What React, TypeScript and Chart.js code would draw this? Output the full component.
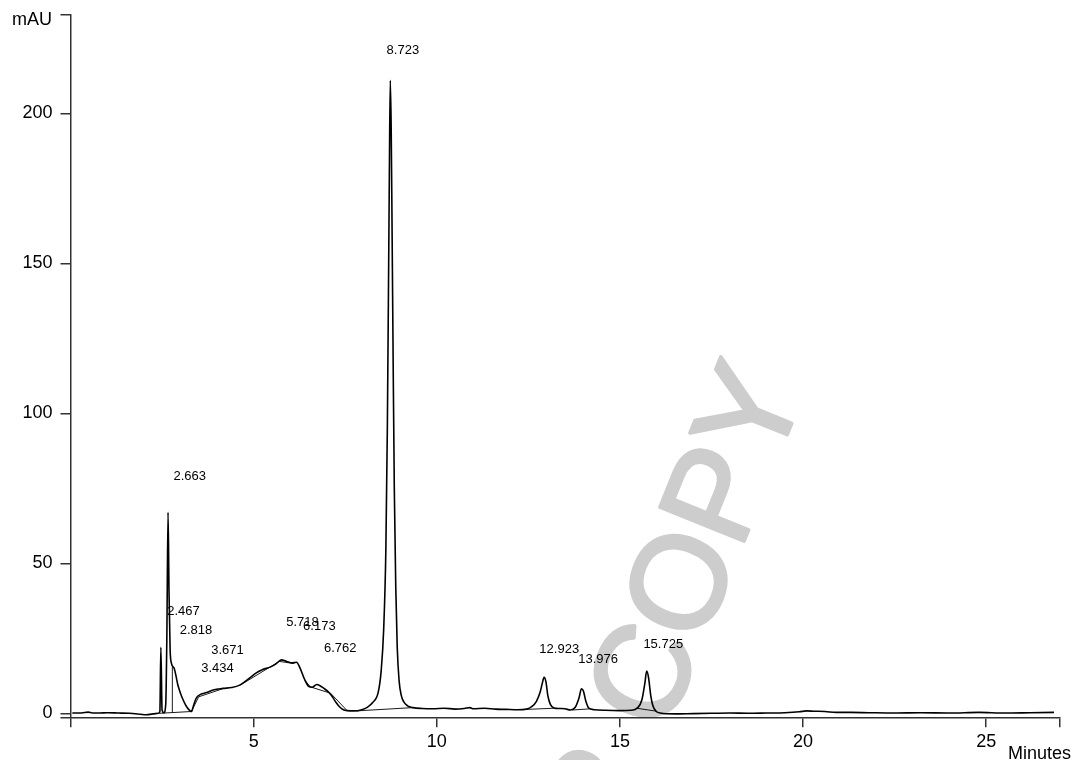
import { useEffect, useRef } from "react";
import { Chart, registerables } from "chart.js";

Chart.register(...registerables);

// Chromatogram trace (time in minutes, absorbance in mAU)
const traceTimes = [
  0.05, 0.3, 0.48, 0.6, 0.8, 1.0, 1.3, 1.6, 1.9, 2.07, 2.25, 2.4, 2.44, 2.467, 2.5, 2.55,
  2.6, 2.63, 2.663, 2.69, 2.72, 2.76, 2.8, 2.83, 2.88, 2.93, 3.0, 3.07, 3.15, 3.22, 3.3,
  3.36, 3.43, 3.55, 3.71, 3.9, 4.16, 4.4, 4.62, 4.85, 5.07, 5.25, 5.45, 5.6, 5.76, 5.9,
  6.05, 6.17, 6.27, 6.38, 6.5, 6.6, 6.72, 6.8, 6.92, 7.05, 7.15, 7.25, 7.35, 7.45, 7.55,
  7.75, 7.95, 8.1, 8.25, 8.4, 8.48, 8.55, 8.61, 8.65, 8.68, 8.705, 8.73, 8.755, 8.78, 8.81,
  8.84, 8.88, 8.92, 8.97, 9.03, 9.1, 9.2, 9.35, 9.6, 9.9, 10.2, 10.5, 10.75, 10.9, 11.0,
  11.3, 11.6, 11.9, 12.2, 12.45, 12.6, 12.72, 12.82, 12.88, 12.93, 12.98, 13.03, 13.1,
  13.2, 13.35, 13.5, 13.65, 13.78, 13.88, 13.95, 14.0, 14.07, 14.15, 14.3, 14.6, 15.0,
  15.3, 15.48, 15.6, 15.68, 15.73, 15.78, 15.84, 15.9, 15.98, 16.1, 16.5, 17.0, 17.5,
  18.0, 18.5, 19.0, 19.5, 19.9, 20.1, 20.3, 20.6, 20.9, 21.3, 21.8, 22.5, 23.2, 24.0,
  24.8, 25.5, 26.2, 26.85,
];
const traceMAU = [
  0.1, 0.1, 0.4, 0.1, 0.1, 0.2, 0.1, 0.0, -0.3, -0.5, -0.2, 0.0, 0.6, 22, 1.0, 0.2,
  3, 25, 67, 40, 21, 16.5, 15.5, 15.0, 12.5, 9.5, 6.8, 4.6, 2.6, 1.4, 0.6,
  2.6, 5.0, 6.3, 6.9, 7.8, 8.3, 8.6, 9.4, 11.4, 13.5, 14.6, 15.4, 16.4, 17.8, 17.3,
  16.8, 17.0, 15.0, 11.6, 9.0, 8.7, 9.6, 9.3, 8.3, 7.0, 5.5, 3.6, 2.1, 1.2, 0.9,
  0.8, 1.2, 2.0, 3.6, 7, 14, 28, 55, 95, 140, 180, 211, 195, 160, 115,
  75, 42, 22, 11, 6, 3.8, 2.5, 1.9, 1.6, 1.5, 1.7, 1.4, 1.6, 1.9, 1.5,
  1.7, 1.4, 1.3, 1.2, 1.4, 2.3, 4.0, 7.0, 10.0, 12.0, 10.5, 6.0, 3.0,
  1.8, 1.6, 1.5, 1.1, 2.0, 5.0, 8.2, 7.5, 4.0, 1.7, 1.2, 1.0, 0.9,
  1.0, 1.8, 4.5, 10.0, 14.1, 12.0, 6.0, 2.5, 0.8, 0.1, -0.2, -0.1, 0.0,
  0.1, 0.0, 0.1, 0.2, 0.5, 0.8, 0.7, 0.6, 0.3, 0.3, 0.2, 0.1, 0.2, 0.1,
  0.3, 0.1, 0.2, 0.3,
];

// Integration baselines and drop lines (null = gap between segments)
const baselineTimes = [
  2.43, 3.3, null, 2.78, 2.78, null, 3.3, 3.5, 4.16, null, 4.62, 5.7, 6.1, null,
  6.4, 6.55, 7.1, 7.55, null, 7.8, 9.35, null, 12.45, 13.2, null, 13.7, 14.2, null, 15.45, 16.0,
];
const baselineMAU = [
  0.0, 0.6, null, 0.3, 15.5, null, 0.6, 5.5, 8.2, null, 9.3, 17.3, 16.6, null,
  11.0, 8.8, 6.7, 0.9, null, 0.8, 1.9, null, 1.3, 1.7, null, 1.1, 1.5, null, 1.7, 0.7,
];

// Peak retention-time labels (text, left edge in minutes, height in mAU)
const peakLabelText = ["2.663", "2.467", "2.818", "3.671", "3.434", "5.718", "6.173", "6.762", "8.723", "12.923", "13.976", "15.725"];
const peakLabelTimes = [2.81, 2.64, 2.98, 3.84, 3.57, 5.89, 6.35, 6.92, 8.63, 12.8, 13.86, 15.64];
const peakLabelMAU = [79, 34, 27.7, 20.8, 14.9, 30.3, 29.1, 21.6, 221, 21.2, 17.9, 22.9];

// Axes
const xTickValues = [0, 5, 10, 15, 20, 25, 27];
const xMin = 0;
const xMax = 27;
const yTickValues = [-1.33, 0, 50, 100, 150, 200, 232.8];
const yMin = -1.33;
const yMax = 232.8;
const xAxisTitle = "Minutes";
const yAxisTitle = "mAU";
const watermarkText = "AUTHOR COPY";

const FONT = '"Liberation Sans", Arial, sans-serif';

export default function App() {
  const canvasRef = useRef<HTMLCanvasElement | null>(null);

  useEffect(() => {
    const canvas = canvasRef.current;
    if (!canvas) return;

    const tracePts = traceTimes.map((t, i) => ({ x: t, y: traceMAU[i] }));
    const basePts = baselineTimes.map((t, i) => ({ x: t as any, y: baselineMAU[i] as any }));

    const watermark = {
      id: "watermark",
      beforeDraw(chart: any) {
        const ctx = chart.ctx;
        ctx.save();
        ctx.translate(806, 388);
        ctx.rotate((-68 * Math.PI) / 180);
        ctx.font = `132px ${FONT}`;
        ctx.fillStyle = "#cdcdcd";
        ctx.strokeStyle = "#cdcdcd";
        ctx.lineWidth = 3.5;
        ctx.lineJoin = "round";
        ctx.textAlign = "right";
        ctx.textBaseline = "alphabetic";
        ctx.fillText(watermarkText, 0, 0);
        ctx.strokeText(watermarkText, 0, 0);
        ctx.restore();
      },
    };

    const annotations = {
      id: "annotations",
      afterDatasetsDraw(chart: any) {
        const ctx = chart.ctx;
        const xs = chart.scales.x;
        const ys = chart.scales.y;
        ctx.save();
        ctx.fillStyle = "#000";
        ctx.font = `13px ${FONT}`;
        ctx.textAlign = "left";
        ctx.textBaseline = "middle";
        peakLabelText.forEach((txt, i) => {
          ctx.fillText(txt, xs.getPixelForValue(peakLabelTimes[i]), ys.getPixelForValue(peakLabelMAU[i]));
        });
        ctx.font = `18px ${FONT}`;
        ctx.textAlign = "right";
        ctx.fillText(yAxisTitle, 52, 20);
        ctx.textAlign = "left";
        ctx.textBaseline = "alphabetic";
        ctx.fillText(xAxisTitle, 1008, 759);
        ctx.restore();
      },
    };

    const zeroPad = (s: any) => {
      s.paddingTop = 0;
      s.paddingBottom = 0;
      s.paddingLeft = 0;
      s.paddingRight = 0;
    };

    const chart = new Chart(canvas, {
      type: "line",
      data: {
        datasets: [
          {
            data: tracePts,
            borderColor: "#000",
            borderWidth: 1.6,
            pointRadius: 0,
            cubicInterpolationMode: "monotone",
          } as any,
          {
            data: basePts,
            borderColor: "#000",
            borderWidth: 0.9,
            pointRadius: 0,
            tension: 0,
            spanGaps: false,
          } as any,
        ],
      },
      options: {
        responsive: false,
        animation: false,
        layout: { padding: { left: 0, right: 13.5, top: 15, bottom: 0 } },
        plugins: { legend: { display: false }, tooltip: { enabled: false } },
        scales: {
          x: {
            type: "linear",
            min: xMin,
            max: xMax,
            afterBuildTicks: (s: any) => {
              s.ticks = xTickValues.map((v) => ({ value: v }));
            },
            afterFit: (s: any) => {
              s.height = 42.7;
              zeroPad(s);
            },
            ticks: {
              autoSkip: false,
              maxRotation: 0,
              padding: 4,
              color: "#000",
              font: { family: FONT, size: 18 },
              callback: (v: any) => (v === xMin || v === xMax ? "" : String(v)),
            },
            grid: { display: true, drawOnChartArea: false, drawTicks: true, tickLength: 10, color: "#333", lineWidth: 1.5 },
            border: { display: true, color: "#333", width: 1.5 },
          },
          y: {
            type: "linear",
            min: yMin,
            max: yMax,
            afterBuildTicks: (s: any) => {
              s.ticks = yTickValues.map((v) => ({ value: v }));
            },
            afterFit: (s: any) => {
              s.width = 70.5;
              zeroPad(s);
            },
            ticks: {
              autoSkip: false,
              padding: 8,
              color: "#000",
              font: { family: FONT, size: 18 },
              callback: (v: any) => (v === yMin || v === yMax ? "" : String(v)),
            },
            grid: { display: true, drawOnChartArea: false, drawTicks: true, tickLength: 10, color: "#333", lineWidth: 1.5 },
            border: { display: true, color: "#333", width: 1.5 },
          },
        },
      },
      plugins: [watermark, annotations],
    });

    return () => chart.destroy();
  }, []);

  return (
    <div style={{ position: "absolute", left: 0, top: 0, width: 1073, height: 760, background: "#fff" }}>
      <canvas ref={canvasRef} width={1073} height={760} style={{ display: "block" }} />
    </div>
  );
}
